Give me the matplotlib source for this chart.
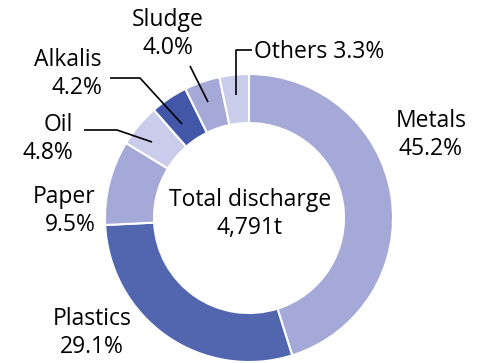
import matplotlib.pyplot as plt

labels = ["Metals", "Plastics", "Paper", "Oil", "Alkalis", "Sludge", "Others"]
shares = [45.2, 29.1, 9.5, 4.8, 4.2, 4.0, 3.3]
colors = ["#a4a9d7", "#5266b0", "#a4a9d7", "#c9cceb", "#4257a7", "#a4a9d7", "#c9cceb"]
total_label = "Total discharge\n4,791t"

plt.rcParams['font.family'] = ['Open Sans', 'DejaVu Sans']

W, H = 478, 363
fig = plt.figure(figsize=(W / 100, H / 100), dpi=100)
ax = fig.add_axes([0, 0, 1, 1])

# pie works in data coords; y measured from the bottom
cx, cy, r = 249, H - 218, 144
ax.pie(shares, colors=colors, startangle=90, counterclock=False,
       center=(cx, cy), radius=r, frame=True,
       wedgeprops=dict(width=49, edgecolor='white', linewidth=1.5))
ax.set_xlim(0, W)
ax.set_ylim(0, H)
ax.set_aspect('equal')
ax.axis('off')

fs = 16.5
ls = 1.25
ax.text(250, H - 214, total_label, ha='center', va='center', fontsize=fs, linespacing=1.2)

def lbl(i, x, y, ha='center'):
    ax.text(x, H - y, f"{labels[i]}\n{shares[i]}%", ha=ha, va='center',
            fontsize=fs, linespacing=ls)

lbl(0, 431, 135)
lbl(1, 92, 333, ha='center')
lbl(2, 96, 211, ha='right')
lbl(3, 73, 139, ha='right')
lbl(4, 102, 74, ha='right')
lbl(5, 168, 34, ha='center')
ax.text(254, H - 52, f"{labels[6]} {shares[6]}%", ha='left', va='center', fontsize=fs)

# leader lines (image coords -> data coords)
def leader(pts):
    xs = [p[0] for p in pts]
    ys = [H - p[1] for p in pts]
    ax.plot(xs, ys, color='black', lw=1.2, solid_capstyle='butt')

leader([(84, 130), (117, 130), (152, 142)])
leader([(110, 78), (140, 78), (182, 124)])
leader([(190, 66), (208, 102)])
leader([(252, 50), (236, 50), (236, 95)])

fig.savefig("out.png", dpi=100)
